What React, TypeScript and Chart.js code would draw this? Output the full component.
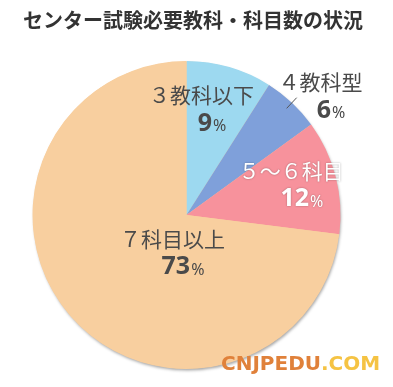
import React, { useEffect, useRef } from "react";
import { Chart, registerables } from "chart.js";

Chart.register(...registerables);

const TITLE = "センター試験必要教科・科目数の状況";
const categories = ["３教科以下", "４教科型", "５〜６科目", "７科目以上"];
const values = [9, 6, 12, 73];
const colors = ["#9DD9F0", "#7FA0DA", "#F7929C", "#F8CF9F"];
const labelColors = ["#4a4a4a", "#4a4a4a", "#ffffff", "#4a4a4a"];
const WATERMARK_MAIN = "CNJPEDU";
const WATERMARK_DOMAIN = ".COM";

// label placement relative to each slice's mid-angle: radius fraction + pixel nudge
const placement = [
  { k: 0.7, dx: -10, dy: -2 },
  { k: 1.1, dx: 23, dy: 5 },
  { k: 0.75, dx: -2, dy: -1 },
  { k: 0.13, dx: 6, dy: 25 },
];

const JP = '"Noto Sans CJK JP", "Noto Sans", sans-serif';

const labelPlugin = {
  id: "labels",
  beforeDatasetsDraw(chart: any) {
    const meta = chart.getDatasetMeta(0);
    const arc = meta.data[0];
    if (!arc) return;
    const { x, y, outerRadius } = arc.getProps(["x", "y", "outerRadius"], true);
    const ctx = chart.ctx;
    ctx.save();
    ctx.shadowColor = "rgba(0,0,0,0.35)";
    ctx.shadowBlur = 3;
    ctx.shadowOffsetX = 1;
    ctx.shadowOffsetY = 2;
    ctx.fillStyle = "#F8CF9F";
    ctx.beginPath();
    ctx.arc(x, y, outerRadius - 0.5, 0, Math.PI * 2);
    ctx.fill();
    ctx.restore();
  },
  afterDraw(chart: any) {
    const ctx = chart.ctx;
    const meta = chart.getDatasetMeta(0);
    ctx.save();
    // title
    ctx.fillStyle = "#333333";
    ctx.font = `bold 20px ${JP}`;
    ctx.textAlign = "left";
    ctx.textBaseline = "middle";
    ctx.fillText(TITLE, 23, 20);

    meta.data.forEach((el: any, i: number) => {
      const p = el.getProps(["x", "y", "startAngle", "endAngle", "outerRadius"], true);
      const mid = (p.startAngle + p.endAngle) / 2;
      const r = p.outerRadius * placement[i].k;
      const cx = p.x + Math.cos(mid) * r + placement[i].dx;
      const cy = p.y + Math.sin(mid) * r + placement[i].dy;
      ctx.save();
      if (labelColors[i] === "#ffffff") {
        ctx.shadowColor = "rgba(0,0,0,0.35)";
        ctx.shadowBlur = 2;
      }
      ctx.fillStyle = labelColors[i];
      ctx.textAlign = "center";
      ctx.textBaseline = "middle";
      ctx.font = `21px ${JP}`;
      ctx.fillText(categories[i], cx - 5, cy - 14);
      const num = String(values[i]);
      ctx.font = `bold 25px "Noto Sans", sans-serif`;
      const wn = ctx.measureText(num).width;
      ctx.font = `16px "Noto Sans", sans-serif`;
      const wp = ctx.measureText("%").width;
      const left = cx + 5 - (wn + wp) / 2;
      ctx.textAlign = "left";
      ctx.font = `bold 25px "Noto Sans", sans-serif`;
      ctx.fillText(num, left, cy + 14);
      ctx.font = `16px "Noto Sans", sans-serif`;
      ctx.fillText("%", left + wn + 1, cy + 17);
      ctx.restore();
    });

    // leader line for the small slice
    const el1 = meta.data[1];
    if (el1) {
      const p = el1.getProps(["x", "y", "startAngle", "endAngle", "outerRadius"], true);
      const mid = (p.startAngle + p.endAngle) / 2;
      const r1 = p.outerRadius * 0.95;
      const r2 = p.outerRadius * 1.045;
      ctx.strokeStyle = "#555555";
      ctx.lineWidth = 1;
      ctx.beginPath();
      ctx.moveTo(p.x + Math.cos(mid) * r1, p.y + Math.sin(mid) * r1);
      ctx.lineTo(p.x + Math.cos(mid) * r2, p.y + Math.sin(mid) * r2);
      ctx.stroke();
    }

    // watermark
    ctx.textAlign = "left";
    ctx.textBaseline = "middle";
    ctx.font = `bold 20px "DejaVu Sans", sans-serif`;
    ctx.fillStyle = "#E0813A";
    let xx = 221;
    ctx.fillText(WATERMARK_MAIN, xx, 365);
    xx += ctx.measureText(WATERMARK_MAIN).width;
    ctx.fillStyle = "#F5C343";
    ctx.fillText(WATERMARK_DOMAIN, xx, 365);
    ctx.restore();
  },
};

export default function App() {
  const ref = useRef<HTMLCanvasElement>(null);
  useEffect(() => {
    if (!ref.current) return;
    const chart = new Chart(ref.current, {
      type: "pie",
      data: {
        labels: categories,
        datasets: [
          {
            data: values,
            backgroundColor: colors,
            borderWidth: 0,
          },
        ],
      },
      options: {
        responsive: false,
        animation: false,
        layout: { padding: { left: 32, right: 52, top: 61, bottom: 18 } },
        plugins: {
          legend: { display: false },
          tooltip: { enabled: false },
          title: { display: false },
        },
      },
      plugins: [labelPlugin],
    });
    return () => chart.destroy();
  }, []);
  return (
    <div style={{ position: "fixed", left: 0, top: 0, width: 393, height: 387, background: "#fff" }}>
      <canvas ref={ref} width={393} height={387} style={{ width: 393, height: 387 }} />
    </div>
  );
}
